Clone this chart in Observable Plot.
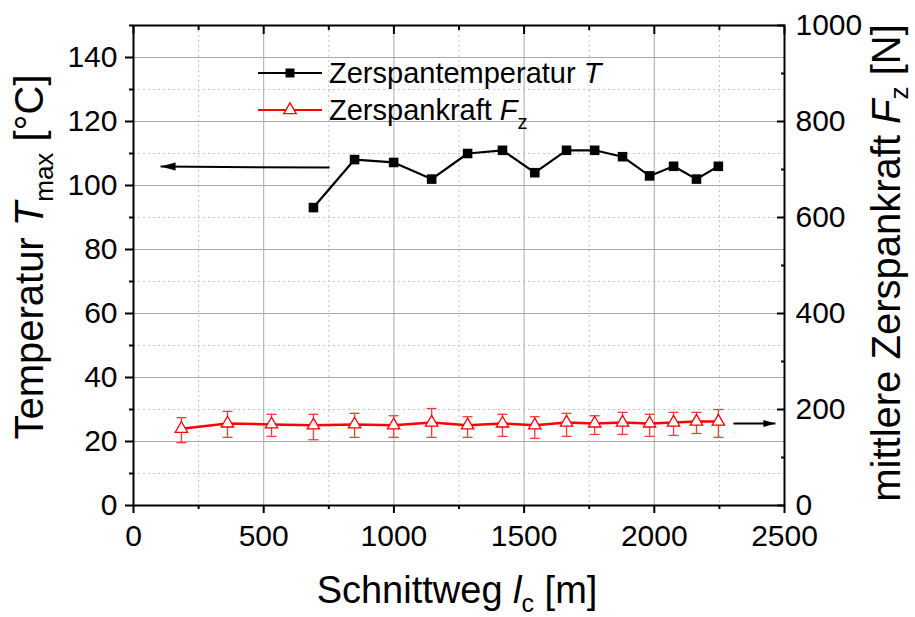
<!DOCTYPE html>
<html><head><meta charset="utf-8">
<script src="https://cdn.jsdelivr.net/npm/d3@7"></script>
<script src="https://cdn.jsdelivr.net/npm/@observablehq/plot@0.6"></script>
<style>body{margin:0;background:#fff} #chart{width:915px;height:617px;}</style>
</head><body><div id="chart"></div>
<script>
// Temperature series (left axis, °C)
const tempDistance = [691, 849, 999, 1145, 1283, 1417, 1541, 1663, 1771, 1878, 1982, 2074, 2162, 2246];
const tempValues   = [93.1, 108.1, 107.2, 102, 110, 111, 104, 111, 111, 109, 103, 106, 102, 106];
// Force series (right axis, N) with error bars
const forceDistance = [184, 361, 530, 691, 849, 999, 1145, 1283, 1417, 1541, 1663, 1771, 1878, 1982, 2074, 2162, 2246];
const forceValues   = [160, 171, 169, 167, 169, 167, 173, 167, 171, 167, 173, 171, 173, 171, 173, 175, 175];
const forceUpper    = [183, 196, 190, 190, 192, 187, 202, 185, 190, 185, 192, 187, 194, 190, 194, 194, 200];
const forceLower    = [131, 142, 144, 137, 142, 142, 142, 142, 144, 140, 144, 148, 148, 144, 146, 150, 142];
// Annotation arrows (x in m, y in °C)
const arrowStartX = [753, 2304];
const arrowEndX   = [104, 2465];
const arrowStartY = [105.6, 25.6];
const arrowEndY   = [105.9, 25.6];
// Ticks
const xMajor = [0, 500, 1000, 1500, 2000, 2500];
const xMinor = [250, 750, 1250, 1750, 2250];
const yMajor = [0, 20, 40, 60, 80, 100, 120, 140];
const yMinor = [10, 30, 50, 70, 90, 110, 130, 150];
const rightMajorN = [0, 200, 400, 600, 800, 1000];
const rightMinorN = [100, 300, 500, 700, 900];

const N_PER_DEG = 1000 / 150; // right axis 0..1000 N maps to left 0..150 °C
const temp = tempDistance.map((d, i) => ({x: d, y: tempValues[i]}));
const force = forceDistance.map((d, i) => ({x: d, y: forceValues[i] / N_PER_DEG, hi: forceUpper[i] / N_PER_DEG, lo: forceLower[i] / N_PER_DEG}));
const arrows = arrowStartX.map((d, i) => ({x1: d, x2: arrowEndX[i], y1: arrowStartY[i], y2: arrowEndY[i], dir: i === 0 ? "left" : "right"}));

const capSymbol = {draw(ctx) { ctx.moveTo(-5, 0); ctx.lineTo(5, 0); }};
const headLeft = {draw(ctx) { ctx.moveTo(0, 0); ctx.lineTo(15, -4); ctx.lineTo(15, 4); ctx.closePath(); }};
const headRight = {draw(ctx) { ctx.moveTo(0, 0); ctx.lineTo(-12, -3.5); ctx.lineTo(-12, 3.5); ctx.closePath(); }};

const RED = "#ff0000";
const FS = 30;
const FONT = "'Liberation Sans', Arial, sans-serif";

const chart = Plot.plot({
  width: 915, height: 617,
  marginLeft: 133, marginRight: 131, marginTop: 25, marginBottom: 112,
  style: {fontFamily: FONT, background: "white"},
  x: {domain: [0, 2500]},
  y: {domain: [0, 150]},
  marks: [
    Plot.gridX(xMinor, {stroke: "#c4c4c4", strokeOpacity: 1, strokeDasharray: "2,3"}),
    Plot.gridY(yMinor, {stroke: "#c4c4c4", strokeOpacity: 1, strokeDasharray: "2,3"}),
    Plot.gridX(xMajor.slice(1, -1), {stroke: "#a8a8a8", strokeOpacity: 1}),
    Plot.gridY(yMajor.slice(1), {stroke: "#a8a8a8", strokeOpacity: 1}),
    Plot.frame({stroke: "black", strokeWidth: 2}),
    // left axis
    Plot.axisY({ticks: yMajor, tickSize: 8, tickPadding: 8, fontSize: FS, label: null, strokeWidth: 2}),
    Plot.axisY({ticks: yMinor, tickSize: 4, text: null, label: null, strokeWidth: 2}),
    // bottom axis
    Plot.axisX({ticks: xMajor, tickSize: 8, tickPadding: 11, fontSize: FS, label: null, strokeWidth: 2, tickFormat: d => String(d)}),
    Plot.axisX({ticks: xMinor, tickSize: 4, text: null, label: null, strokeWidth: 2}),
    // top inward ticks
    Plot.axisX({anchor: "top", ticks: xMajor, tickSize: -8, text: null, label: null, strokeWidth: 2}),
    Plot.axisX({anchor: "top", ticks: xMinor, tickSize: -4, text: null, label: null, strokeWidth: 2}),
    // right axis (N)
    Plot.axisY({anchor: "right", ticks: rightMajorN.map(v => v / N_PER_DEG), tickFormat: d => String(Math.round(d * N_PER_DEG)), tickSize: 0, tickPadding: 11, fontSize: FS, label: null}),
    Plot.axisY({anchor: "right", ticks: rightMajorN.map(v => v / N_PER_DEG), tickSize: -8, text: null, label: null, strokeWidth: 2}),
    Plot.axisY({anchor: "right", ticks: rightMinorN.map(v => v / N_PER_DEG), tickSize: -4, text: null, label: null, strokeWidth: 2}),
    // force error bars
    Plot.ruleX(force, {x: "x", y1: "lo", y2: "hi", stroke: "#f03c3c", strokeWidth: 1.3}),
    Plot.dot(force, {x: "x", y: "hi", symbol: capSymbol, stroke: "#f03c3c", strokeWidth: 1.3, fill: "none", r: 5}),
    Plot.dot(force, {x: "x", y: "lo", symbol: capSymbol, stroke: "#f03c3c", strokeWidth: 1.3, fill: "none", r: 5}),
    Plot.line(force, {x: "x", y: "y", stroke: RED, strokeWidth: 2.5}),
    Plot.dot(force, {x: "x", y: "y", symbol: "triangle", r: 4.6, fill: "white", stroke: RED, strokeWidth: 1.3}),
    // temperature
    Plot.line(temp, {x: "x", y: "y", stroke: "black", strokeWidth: 2.2}),
    Plot.dot(temp, {x: "x", y: "y", symbol: "square", r: 5.4, fill: "black"}),
    // arrows
    Plot.link(arrows, {x1: "x1", y1: "y1", x2: "x2", y2: "y2", stroke: "black", strokeWidth: 2}),
    Plot.dot(arrows.filter(d => d.dir === "left"), {x: "x2", y: "y2", symbol: headLeft, fill: "black", r: 5}),
    Plot.dot(arrows.filter(d => d.dir === "right"), {x: "x2", y: "y2", symbol: headRight, fill: "black", r: 5})
  ]
});

document.getElementById("chart").appendChild(chart);
const svg = d3.select(chart);

function titled(g, size, subSize, subDy, parts) {
  const t = g.append("text").attr("text-anchor", "middle").attr("font-size", size).attr("fill", "black")
    .attr("font-family", FONT);
  parts.forEach(p => {
    const s = t.append("tspan").text(p.t);
    if (p.it) s.attr("font-style", "italic");
    if (p.sub) s.attr("font-size", subSize).attr("dy", subDy);
    if (p.back) s.attr("dy", -subDy);
  });
  return t;
}

// left title
titled(svg.append("g").attr("transform", "translate(43,257) rotate(-90)"), 40, 26, 10,
  [{t: "Temperatur "}, {t: "T", it: true}, {t: "max", sub: true}, {t: " [°C]", back: true}]);
// right title
titled(svg.append("g").attr("transform", "translate(900,263) rotate(-90)"), 40, 26, 8,
  [{t: "mittlere Zerspankraft "}, {t: "F", it: true}, {t: "z", sub: true}, {t: " [N]", back: true}]);
// bottom title
titled(svg.append("g").attr("transform", "translate(457,603)"), 38, 25, 9,
  [{t: "Schnittweg "}, {t: "l", it: true}, {t: "c", sub: true}, {t: " [m]", back: true}]);

// legend
const LFS = 29;
const lg = svg.append("g").attr("font-family", FONT).attr("font-size", LFS).attr("text-anchor", "start");
lg.append("line").attr("x1", 258).attr("x2", 322).attr("y1", 73).attr("y2", 73).attr("stroke", "black").attr("stroke-width", 2);
lg.append("rect").attr("x", 285.5).attr("y", 68.5).attr("width", 9).attr("height", 9).attr("fill", "black");
const t1 = lg.append("text").attr("x", 329).attr("y", 83);
t1.append("tspan").text("Zerspantemperatur ");
t1.append("tspan").attr("font-style", "italic").text("T");
lg.append("line").attr("x1", 258).attr("x2", 322).attr("y1", 110).attr("y2", 110).attr("stroke", RED).attr("stroke-width", 2);
lg.append("path").attr("d", d3.symbol(d3.symbolTriangle, 4.6 * 4.6 * Math.PI)()).attr("transform", "translate(290,110)")
  .attr("fill", "white").attr("stroke", RED).attr("stroke-width", 1.3);
const t2 = lg.append("text").attr("x", 329).attr("y", 120);
t2.append("tspan").text("Zerspankraft ");
t2.append("tspan").attr("font-style", "italic").text("F");
t2.append("tspan").attr("font-size", 20).attr("dy", 9).text("z");
</script>
</body></html>
